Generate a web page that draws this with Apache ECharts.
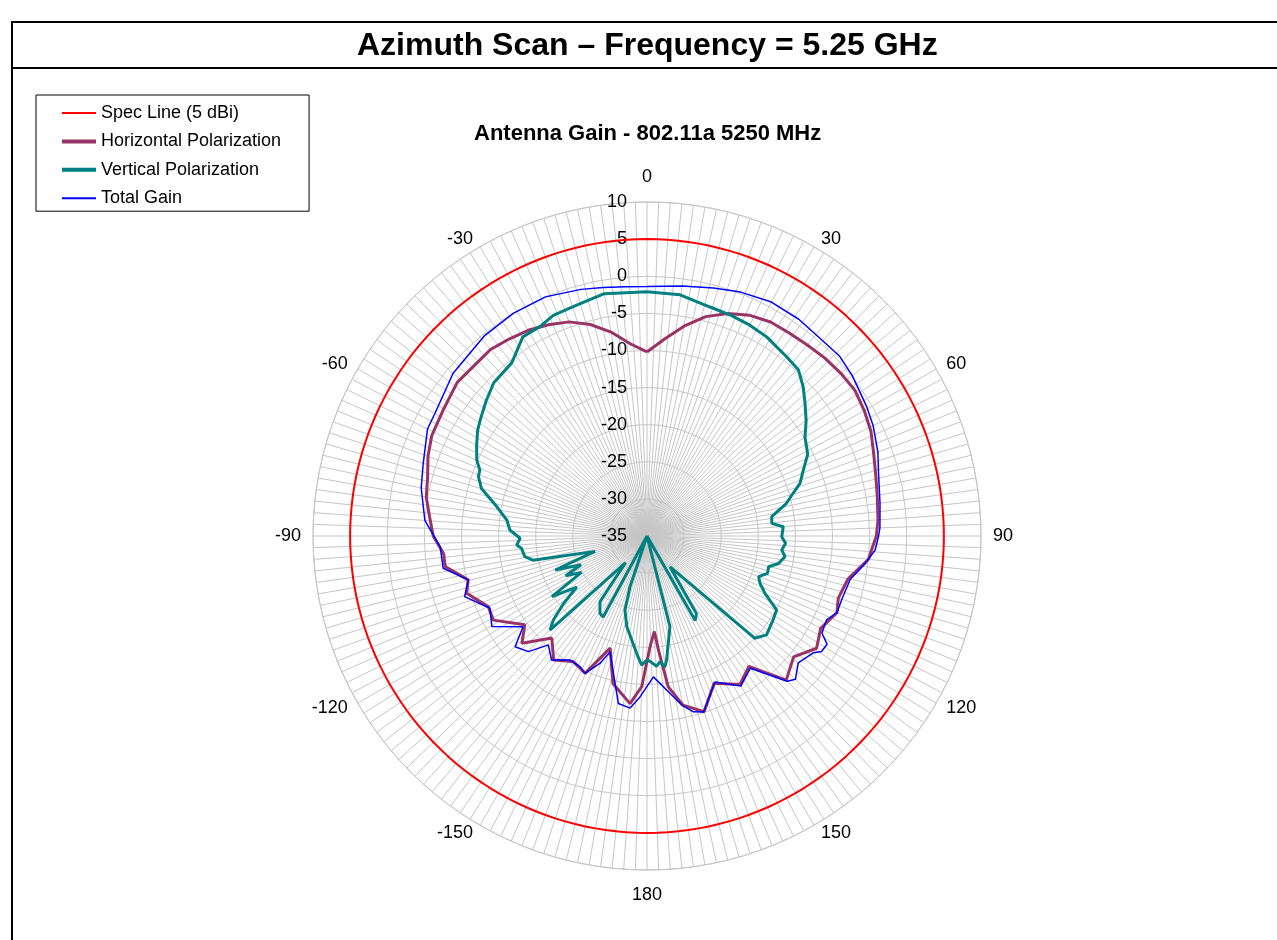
<!DOCTYPE html>
<html><head><meta charset="utf-8">
<script src="https://cdn.jsdelivr.net/npm/echarts@6/dist/echarts.min.js"></script>
<style>html,body{margin:0;padding:0;background:#fff}#c{width:1277px;height:940px}</style>
</head><body><div id="c"></div><script>
// ---- Data (angles in degrees, clockwise from 0 at top; values in dBi) ----
const R_MIN = -35, R_MAX = 10, R_STEP = 5;
const angleTickStep = 30;
const SPEC = 5;
const seriesNames = ['Spec Line (5 dBi)', 'Horizontal Polarization', 'Vertical Polarization', 'Total Gain'];

const hAngles = [0,5,10,15,20,25,30,35,40,45,50,55,60,65,70,75,80,86,90,93,96,100,102,108,112,118,123.5,129.5,136,142,148,155.5,162,168,172,174.3,175.6,178.4,
  -178,-174.2,-167,-161.8,-155.7,-149.6,-143,-137,-130.6,-126,-118.7,-114,-107.6,-103.8,-98.6,-95,-90,-85,-80,-75,-70,-65,-58,-51,-46,-40,-35,-30,-25,-20,-15,-10,-5];
const hValues = [-10.2,-8.4,-6.3,-4.4,-3.1,-2.2,-1.7,-1.6,-1.4,-1.1,-0.9,-0.8,-1.2,-1.7,-2.5,-3.1,-3.5,-3.8,-4.1,-4.6,-5.0,-6.6,-7.3,-7.9,-7.4,-8.5,-7.6,-9.4,-8.0,-12.7,-11.4,-13.2,-10.1,-11.7,-14.5,-19.6,-22.1,-20.1,
  -14.7,-12.3,-14.6,-19.1,-14.7,-15.4,-14.1,-16.2,-12.8,-14.65,-11.4,-11.6,-9.5,-10.2,-7.5,-7.5,-6.2,-5.6,-4.8,-4.4,-3.6,-3.0,-2.7,-2.1,-2.3,-2.2,-2.6,-3.0,-3.6,-4.3,-5.5,-7.1,-9.0];

const vAngles = [0,7.8,15.4,21,26,31,38,42.3,46.3,50,54,58,63,67,71,73.7,76.8,81.2,84.2,86.1,90.3,93,95.9,98.5,101.8,104.2,107.2,110,112.7,116,119.7,123.6,129.6,133.5,143.2,147.5,150.3,155,165.8,171,172.2,174.1,175.8,178.6,180,
  -177.6,-175,-167.4,-163.4,-161.5,-157,-151.6,-148.7,-144.4,-141.1,-134.1,-131.9,-129,-126,-122.5,-119,-116,-113.5,-110.3,-106.5,-102,-99.6,-95.6,-94,-91,-87.5,-83.5,-79,-74,-70.5,-68.5,-66,-62,-58,-55,-50,-45,-38,-32,-27,-23,-18,-10];
const vValues = [-2.1,-2.2,-3.0,-3.2,-3.4,-3.7,-4.4,-4.7,-5.9,-7.2,-8.5,-9.9,-10.7,-12.1,-13.2,-14.5,-15.7,-18.0,-18.1,-16.6,-16.85,-16.3,-16.75,-16.2,-16.9,-18.1,-18.0,-19.0,-18.5,-17.3,-14.9,-14.6,-14.1,-15.0,-29.8,-22.6,-21.9,-35,-22.4,-18.1,-17.2,-18.0,-17.4,-18.1,-18.3,
  -17.6,-19.1,-22.5,-24.6,-27.8,-35,-22.6,-22.8,-24.1,-30.4,-16.8,-18.05,-20.5,-23.3,-19.8,-24.9,-22.8,-25.3,-21.8,-27.7,-19.3,-18.3,-18.0,-17.4,-17.9,-16.5,-16.0,-14.4,-11.8,-10.9,-10.8,-9.9,-9.0,-8.1,-7.6,-6.7,-5.8,-5.4,-3.4,-3.3,-2.7,-2.55,-1.85];

const tAngles = [0,8,15,21,28,35,41,47,52,59.5,64,70,75,82,88,90,93.5,97,102,108,112,115,119,121,123.5,125,130,134,136,142,148,155,162.2,165.2,168.4,171.7,177.4,
  -177.5,-174.4,-170.3,-162.3,-159.7,-155.7,-153,-148,-145,-142.5,-137.8,-134.3,-130,-126.2,-120.3,-114.7,-108.4,-103.8,-99,-93,-86,-78,-72,-64,-60,-50,-39,-31,-23,-15,-10,-5];
const tValues = [-1.4,-1.0,-0.4,0.2,0.7,0.65,0.4,0.5,0.1,-0.65,-1.1,-1.9,-2.7,-3.3,-3.6,-3.8,-4.2,-5.3,-7.0,-7.4,-7.4,-8.3,-8.05,-6.7,-6.8,-7.6,-8.4,-7.2,-7.8,-12.4,-11.15,-13.3,-10.1,-10.5,-11.75,-13.6,-16.0,
  -13.3,-11.7,-12.1,-18.6,-16.7,-14.7,-15.2,-15.3,-14.6,-13.9,-15.2,-12.7,-11.8,-14.3,-10.8,-11.7,-9.1,-10.2,-7.2,-7.1,-5.0,-3.9,-3.3,-2.1,-2.0,-0.9,-0.25,0.0,0.0,-0.6,-1.0,-1.3];

// spec line: constant 5 dBi drawn around the full circle at the 2-degree grid
const specAngles = [];
for (let a = 0; a <= 360; a += 2) specAngles.push(a);

function toPolar(angles, values) {
  const d = angles.map((a, i) => [Math.max(values[i], R_MIN), a < 0 ? a + 360 : a]);
  d.push(d[0].slice());
  return d;
}

const chart = echarts.init(document.getElementById('c'), null, {renderer: 'canvas'});
const FONT = '"Liberation Sans", Arial, sans-serif';
const gridColor = '#c6c6c6';

function angleLabel(v) {
  if (v === 360) return '';
  const t = String(v > 180 ? v - 360 : v);
  if (v === 0 || v === 180) return '{v|' + t + '}';
  if (v === 90 || v === 270) return '{m|' + t + '}';
  return '{d|' + t + '}';
}

chart.setOption({
  animation: false,
  backgroundColor: '#ffffff',
  textStyle: {fontFamily: FONT, color: '#000'},
  title: [
    {text: 'Azimuth Scan – Frequency = 5.25 GHz', left: 357, top: 25, padding: [5, 0, 5, 0],
     textStyle: {fontFamily: FONT, fontSize: 32, fontWeight: 'bold', color: '#000'}},
    {text: 'Antenna Gain - 802.11a 5250 MHz', left: 474, top: 118, padding: [5, 0, 5, 0],
     textStyle: {fontFamily: FONT, fontSize: 22, fontWeight: 'bold', color: '#000'}}
  ],
  graphic: [
    {type: 'rect', silent: true, z: 100, shape: {x: 12, y: 22, width: 1300, height: 1000},
     style: {fill: 'none', stroke: '#000', lineWidth: 2}},
    {type: 'line', silent: true, z: 100, shape: {x1: 12, y1: 68, x2: 1277, y2: 68},
     style: {stroke: '#000', lineWidth: 2}}
  ],
  legend: {
    orient: 'vertical', left: 36, top: 95,
    backgroundColor: '#fff', borderColor: '#000', borderWidth: 1, borderRadius: 0,
    padding: [9, 28, 4, 24], itemGap: 10.4, itemWidth: 34, itemHeight: 14,
    itemStyle: {opacity: 0},
    textStyle: {fontFamily: FONT, fontSize: 18, color: '#000'},
    data: [
      {name: seriesNames[0], lineStyle: {width: 2}},
      {name: seriesNames[1], lineStyle: {width: 4}},
      {name: seriesNames[2], lineStyle: {width: 4}},
      {name: seriesNames[3], lineStyle: {width: 2}}
    ]
  },
  polar: {center: [647, 536], radius: 334},
  angleAxis: {
    type: 'value', min: 0, max: 360, interval: angleTickStep, startAngle: 90, clockwise: true,
    axisLine: {show: true, lineStyle: {color: gridColor, width: 1}},
    axisTick: {show: false},
    axisLabel: {margin: 8, fontFamily: FONT, fontSize: 18, color: '#000',
      formatter: angleLabel,
      rich: {
        v: {fontFamily: FONT, fontSize: 18, color: '#000', lineHeight: 34},
        m: {fontFamily: FONT, fontSize: 18, color: '#000', padding: [0, 4, 0, 4]},
        d: {fontFamily: FONT, fontSize: 18, color: '#000', lineHeight: 2, padding: [0, 3, 0, 3]}
      }},
    splitLine: {show: true, lineStyle: {color: gridColor, width: 1}},
    minorTick: {show: false, splitNumber: 15},
    minorSplitLine: {show: true, lineStyle: {color: gridColor, width: 1}}
  },
  radiusAxis: {
    type: 'value', min: R_MIN, max: R_MAX, interval: R_STEP,
    axisLine: {show: false}, axisTick: {show: false},
    axisLabel: {margin: 20, fontFamily: FONT, fontSize: 18, color: '#000'},
    splitLine: {show: true, lineStyle: {color: gridColor, width: 1}}
  },
  series: [
    {name: seriesNames[0], type: 'line', coordinateSystem: 'polar', symbol: 'none',
     data: specAngles.map(a => [SPEC, a]), lineStyle: {color: '#ff0000', width: 2}, itemStyle: {color: '#ff0000'}},
    {name: seriesNames[1], type: 'line', coordinateSystem: 'polar', symbol: 'none',
     data: toPolar(hAngles, hValues), lineStyle: {color: '#993366', width: 3}, itemStyle: {color: '#993366'}},
    {name: seriesNames[2], type: 'line', coordinateSystem: 'polar', symbol: 'none',
     data: toPolar(vAngles, vValues), lineStyle: {color: '#008080', width: 3}, itemStyle: {color: '#008080'}},
    {name: seriesNames[3], type: 'line', coordinateSystem: 'polar', symbol: 'none',
     data: toPolar(tAngles, tValues), lineStyle: {color: '#0000ff', width: 1.5}, itemStyle: {color: '#0000ff'}}
  ]
});
</script></body></html>
